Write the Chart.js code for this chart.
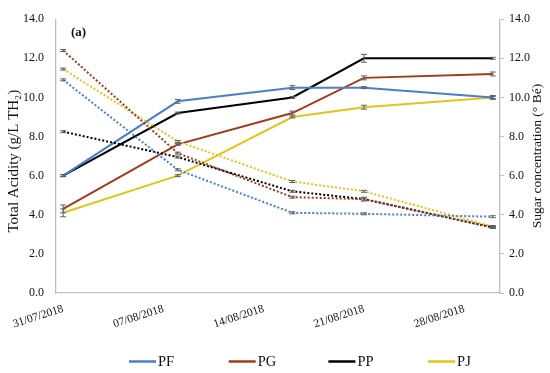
<!DOCTYPE html>
<html><head><meta charset="utf-8">
<script src="https://cdn.jsdelivr.net/npm/chart.js@4.4.1/dist/chart.umd.min.js"></script>
<style>html,body{margin:0;padding:0;background:#fff}#wrap{width:550px;height:373px;position:relative}</style>
</head><body><div id="wrap"><canvas id="c"></canvas></div>
<script>
// ---- data ----
const sampleDates = ['31/07/2018','08/08/2018','16/08/2018','21/08/2018','30/08/2018'];
const tickLabels = ['31/07/2018','07/08/2018','14/08/2018','21/08/2018','28/08/2018'];
const seriesNames = ['PF','PG','PP','PJ'];
const acidityPF = [6.0, 9.8, 10.5, 10.5, 10.0];
const acidityPG = [4.3, 7.6, 9.2, 11.0, 11.2];
const acidityPP = [6.0, 9.2, 10.0, 12.0, 12.0];
const acidityPJ = [4.1, 6.0, 9.0, 9.5, 10.0];
const acidityErrPF = [0.05, 0.1, 0.1, 0.05, 0.05];
const acidityErrPG = [0.2, 0.05, 0.1, 0.1, 0.1];
const acidityErrPP = [0.05, 0.05, 0.05, 0.2, 0.05];
const acidityErrPJ = [0.2, 0.05, 0.05, 0.1, 0.1];
const sugarPF = [10.9, 6.3, 4.1, 4.05, 3.9];
const sugarPG = [12.4, 7.15, 4.9, 4.8, 3.35];
const sugarPP = [8.25, 6.95, 5.2, 4.8, 3.35];
const sugarPJ = [11.45, 7.75, 5.7, 5.2, 3.4];
const sugarErrPF = [0.05, 0.05, 0.05, 0.05, 0.05];
const sugarErrPG = [0.05, 0.05, 0.05, 0.05, 0.05];
const sugarErrPP = [0.05, 0.05, 0.05, 0.1, 0.05];
const sugarErrPJ = [0.05, 0.05, 0.05, 0.05, 0.05];
const yTickValues = [0, 2, 4, 6, 8, 10, 12, 14];

// ---- helpers ----
function dayOffset(s) {
  const [d, m, y] = s.split('/').map(Number);
  const [d0, m0, y0] = sampleDates[0].split('/').map(Number);
  return (Date.UTC(y, m - 1, d) - Date.UTC(y0, m0 - 1, d0)) / 86400000;
}
const sampleDays = sampleDates.map(dayOffset);
const tickDays = tickLabels.map(dayOffset);
const pts = (vals) => vals.map((v, i) => ({x: sampleDays[i], y: v}));

const COLORS = {PF: '#4a7ec9', PG: '#a2391c', PP: '#000000', PJ: '#e2c41a'};
const SERIF = '"Liberation Serif", "DejaVu Serif", serif';

const acidity = {PF: acidityPF, PG: acidityPG, PP: acidityPP, PJ: acidityPJ};
const acidityErr = {PF: acidityErrPF, PG: acidityErrPG, PP: acidityErrPP, PJ: acidityErrPJ};
const sugar = {PF: sugarPF, PG: sugarPG, PP: sugarPP, PJ: sugarPJ};
const sugarErr = {PF: sugarErrPF, PG: sugarErrPG, PP: sugarErrPP, PJ: sugarErrPJ};

const datasets = [];
seriesNames.forEach(n => {
  datasets.push({label: n + ' sugar', data: pts(sugar[n]), errors: sugarErr[n], yAxisID: 'y2',
    borderColor: COLORS[n], borderWidth: 2, borderDash: [2, 2], pointRadius: 0, fill: false, tension: 0, legend: false});
});
seriesNames.forEach(n => {
  datasets.push({label: n, data: pts(acidity[n]), errors: acidityErr[n], yAxisID: 'y',
    borderColor: COLORS[n], borderWidth: 2, pointRadius: 0, fill: false, tension: 0, legend: true});
});

const errorBars = {
  id: 'errorBars',
  afterDatasetsDraw(chart) {
    const ctx = chart.ctx;
    chart.data.datasets.forEach((ds, di) => {
      const meta = chart.getDatasetMeta(di);
      const ys = chart.scales[ds.yAxisID];
      ctx.save();
      ctx.strokeStyle = '#606060';
      ctx.lineWidth = 1;
      meta.data.forEach((el, i) => {
        const v = ds.data[i].y, e = ds.errors[i];
        const y1 = ys.getPixelForValue(v - e), y2 = ys.getPixelForValue(v + e);
        const x = el.x;
        ctx.beginPath();
        ctx.moveTo(x, y1); ctx.lineTo(x, y2);
        ctx.moveTo(x - 3, y1); ctx.lineTo(x + 3, y1);
        ctx.moveTo(x - 3, y2); ctx.lineTo(x + 3, y2);
        ctx.stroke();
      });
      ctx.restore();
    });
  }
};

const decorations = {
  id: 'decorations',
  afterDraw(chart) {
    const ctx = chart.ctx, ca = chart.chartArea;
    const midY = (ca.top + ca.bottom) / 2;
    ctx.save();
    ctx.fillStyle = '#111';
    // left title
    ctx.font = '15px ' + SERIF;
    ctx.textAlign = 'center'; ctx.textBaseline = 'middle';
    ctx.save(); ctx.translate(14, midY + 5); ctx.rotate(-Math.PI / 2);
    ctx.fillText('Total Acidity (g/L TH\u2082)', 0, 0); ctx.restore();
    // right title
    ctx.font = '13.5px ' + SERIF;
    ctx.save(); ctx.translate(537, midY); ctx.rotate(-Math.PI / 2);
    ctx.fillText('Sugar concentration (\u00B0 B\u00E9)', 0, 0); ctx.restore();
    // panel label
    ctx.font = 'bold 13px ' + SERIF;
    ctx.textAlign = 'left'; ctx.textBaseline = 'alphabetic';
    ctx.fillText('(a)', ca.left + 15, ca.top + 17);
    // legend
    const startX = 129, step = 99.7, lineLen = 27, legY = 361.5;
    ctx.font = '14.5px ' + SERIF;
    ctx.textBaseline = 'middle';
    chart.data.datasets.filter(d => d.legend).forEach((d, k) => {
      const x = startX + k * step;
      ctx.strokeStyle = d.borderColor; ctx.lineWidth = 2.5;
      ctx.beginPath(); ctx.moveTo(x, legY); ctx.lineTo(x + lineLen, legY); ctx.stroke();
      ctx.fillStyle = '#111';
      ctx.fillText(d.label, x + lineLen + 2, legY + 1);
    });
    ctx.restore();
  }
};

const setTicks = (s) => { s.ticks = yTickValues.map(v => ({value: v})); };

new Chart(document.getElementById('c'), {
  type: 'line',
  data: {datasets},
  options: {
    responsive: true, maintainAspectRatio: false, animation: false,
    layout: {padding: {top: 10, left: 0, right: 0, bottom: 0}},
    plugins: {legend: {display: false}, tooltip: {enabled: false}},
    scales: {
      x: {
        type: 'linear', min: -0.5, max: 30.5,
        afterBuildTicks: (s) => { s.ticks = tickDays.map(v => ({value: v})); },
        afterFit: (s) => { s.height = 80; },
        ticks: {
          autoSkip: false, minRotation: 18, maxRotation: 18, padding: 9,
          color: '#111', font: {family: SERIF, size: 11.5},
          callback: (v) => { const i = tickDays.indexOf(v); return i >= 0 ? tickLabels[i] : ''; }
        },
        grid: {display: true, drawOnChartArea: false, drawTicks: false, color: 'rgba(0,0,0,0)'},
        border: {display: true, color: '#bfbfbf', width: 1.3}
      },
      y: {
        position: 'left', min: 0, max: 14,
        afterBuildTicks: setTicks,
        afterFit: (s) => { s.width = 56; },
        ticks: {padding: 12, color: '#111', font: {family: SERIF, size: 12}, callback: (v) => Number(v).toFixed(1)},
        grid: {display: true, drawOnChartArea: false, drawTicks: false, color: 'rgba(0,0,0,0)'},
        border: {display: true, color: '#bfbfbf', width: 1.3}
      },
      y2: {
        position: 'right', min: 0, max: 14,
        afterBuildTicks: setTicks,
        afterFit: (s) => { s.width = 50; },
        ticks: {padding: 5, color: '#111', font: {family: SERIF, size: 12}, callback: (v) => Number(v).toFixed(1)},
        grid: {display: true, drawOnChartArea: false, drawTicks: true, tickLength: 4, color: '#bfbfbf', tickColor: '#bfbfbf'},
        border: {display: true, color: '#bfbfbf', width: 1.3}
      }
    }
  },
  plugins: [errorBars, decorations]
});
</script>
</body></html>
